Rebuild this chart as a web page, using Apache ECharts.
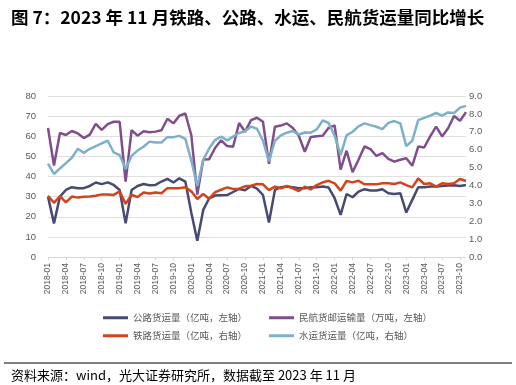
<!DOCTYPE html>
<html>
<head>
<meta charset="utf-8">
<script src="https://cdn.jsdelivr.net/npm/echarts@6/dist/echarts.min.js"></script>
<style>
html,body{margin:0;padding:0;background:#fff;}
#c{width:516px;height:385px;}
</style>
</head>
<body>
<div id="c"></div>
<script>
// Categories: 2018-01 .. 2023-11
var categories = [];
for (var y = 2018; y <= 2023; y++) {
  for (var m = 1; m <= 12; m++) {
    if (y === 2023 && m > 11) break;
    categories.push(y + '-' + (m < 10 ? '0' + m : '' + m));
  }
}

// 公路货运量（亿吨，左轴）
var roadFreight = [30.0, 16.7, 30, 33.3, 34.7, 34.2, 34.2, 35.3, 37, 36.2, 37.1, 35.8,
  33.3, 16.7, 33.3, 35.3, 36.3, 35.7, 35.8, 37.5, 38.8, 37, 39.1, 37.5,
  22, 8.1, 23.4, 29.2, 30.5, 30.7, 30.8, 32.3, 33.8, 33.2, 35.3, 34,
  30.8, 17.1, 33.3, 34.7, 35, 34.7, 34.2, 34.2, 34.7, 34.7, 35, 34.5,
  29.2, 20.9, 31.3, 29.7, 32.5, 33.7, 33, 33, 33.7, 31.7, 31.3, 31.7,
  22.1, 28.4, 34.7, 34.7, 35, 35, 35.3, 35.5, 35.7, 35.3, 35.8];

// 民航货邮运输量（万吨，左轴）
var airFreight = [64.1, 45.5, 61.6, 60.6, 62.6, 61.4, 59.1, 60.8, 66.2, 63.2, 66, 67.2,
  67.2, 37.5, 63, 60.3, 62.5, 62, 62.3, 63, 68.7, 66.4, 70.2, 71.3,
  60.5, 31, 48.4, 48.6, 54.3, 58, 55.1, 54.8, 66.6, 62.2, 68, 69.2,
  67.2, 46.3, 64.7, 65.3, 66.4, 64.1, 60.2, 52.3, 59.6, 60, 60.3, 64.2,
  65.4, 43.4, 52.8, 42.1, 48.3, 54.9, 53.6, 50.2, 51.6, 48.8, 47.4, 48.3,
  49.1, 45.3, 54.9, 54.4, 59.9, 64.8, 59.9, 64, 70.1, 67.7, 72];

// 铁路货运量（亿吨，右轴）
var railFreight = [3.42, 3.03, 3.4, 3.05, 3.38, 3.32, 3.37, 3.38, 3.42, 3.5, 3.5, 3.47,
  3.67, 2.97, 3.48, 3.35, 3.6, 3.55, 3.61, 3.56, 3.85, 3.85, 3.85, 3.9,
  3.67, 3.24, 3.52, 3.26, 3.63, 3.76, 3.89, 3.8, 3.82, 3.95, 3.98, 4.08,
  4.06, 3.74, 3.93, 3.84, 3.97, 3.84, 3.69, 3.93, 3.78, 4.02, 4.17, 4.26,
  4.12, 3.71, 4.25, 4.17, 4.26, 4.06, 4.06, 4.06, 4.12, 4.12, 4.08, 4.17,
  4.02, 3.89, 4.39, 4.08, 4.12, 3.93, 4.12, 4.08, 4.12, 4.36, 4.25];

// 水运货运量（亿吨，右轴）
var waterFreight = [5.22, 4.64, 4.95, 5.25, 5.55, 6.05, 5.82, 6.05, 6.2, 6.35, 6.5, 5.85,
  5.7, 4.92, 5.65, 5.95, 6.16, 6.45, 6.4, 6.4, 6.7, 6.7, 6.77, 6.6,
  5.4, 3.95, 5.43, 6.08, 6.55, 6.73, 6.52, 6.73, 6.93, 7.03, 7.29, 7.17,
  6.5, 5.35, 6.5, 6.8, 6.95, 7.04, 6.85, 6.96, 6.95, 7.13, 7.64, 7.49,
  6.78, 5.7, 6.8, 7.0, 7.3, 7.47, 7.37, 7.28, 7.15, 7.5, 7.6, 7.47,
  6.2, 6.5, 7.65, 7.78, 7.9, 8.05, 7.9, 8.08, 8.05, 8.35, 8.45];

var leftTicks = {min: 0, max: 80, interval: 10};
var rightTicks = {min: 0, max: 9, interval: 1};

var names = ['公路货运量（亿吨，左轴）', '民航货邮运输量（万吨，左轴）', '铁路货运量（亿吨，右轴）', '水运货运量（亿吨，右轴）'];
var colors = ['#474a73', '#7f4e8b', '#d2441c', '#7eb0c9'];

var cjk = '"Noto Sans CJK SC", "Noto Sans", sans-serif';
var latin = '"Liberation Sans", Arial, sans-serif';

var chart = echarts.init(document.getElementById('c'), null, {renderer: 'canvas'});
var legendText = {fontSize: 9.5, color: '#595959', fontFamily: cjk};
chart.setOption({
  animation: false,
  backgroundColor: '#fff',
  color: colors,
  title: [
    {text: '图 7：2023 年 11 月铁路、公路、水运、民航货运量同比增长', left: 6, top: 4,
     textStyle: {fontSize: 17.5, fontWeight: 'bold', color: '#000', fontFamily: cjk}},
    {text: '资料来源：wind，光大证券研究所，数据截至 2023 年 11 月', left: 6, top: 364,
     textStyle: {fontSize: 13, fontWeight: 'normal', color: '#000', fontFamily: cjk}}
  ],
  graphic: [
    {type: 'rect', shape: {x: 4, y: 362, width: 508, height: 2}, style: {fill: '#7f7f7f'}, silent: true}
  ],
  legend: [
    {data: [names[0], names[1]], left: 98, top: 308, itemWidth: 25, itemHeight: 3, itemGap: 22,
     icon: 'rect', textStyle: legendText},
    {data: [names[2], names[3]], left: 98, top: 326, itemWidth: 25, itemHeight: 3, itemGap: 22,
     icon: 'rect', textStyle: legendText}
  ],
  grid: {left: 48, right: 50, top: 96, bottom: 128, containLabel: false},
  xAxis: {
    type: 'category',
    data: categories,
    boundaryGap: false,
    axisLine: {lineStyle: {color: '#d9d9d9', width: 1}},
    axisTick: {show: true, interval: 2, length: 3, lineStyle: {color: '#d9d9d9'}},
    axisLabel: {interval: 2, rotate: 90, fontSize: 8.5, color: '#595959', fontFamily: latin, margin: 6},
    splitLine: {show: false}
  },
  yAxis: [
    {type: 'value', min: leftTicks.min, max: leftTicks.max, interval: leftTicks.interval,
     axisLine: {show: false}, axisTick: {show: false},
     axisLabel: {fontSize: 9.5, color: '#595959', fontFamily: latin, margin: 12},
     splitLine: {lineStyle: {color: '#e0e0e0', width: 1}}},
    {type: 'value', min: rightTicks.min, max: rightTicks.max, interval: rightTicks.interval,
     axisLine: {show: false}, axisTick: {show: false},
     axisLabel: {fontSize: 9.5, color: '#595959', fontFamily: latin, margin: 3,
       formatter: function (v) { return v.toFixed(1); }},
     splitLine: {show: false}}
  ],
  series: [
    {name: names[0], type: 'line', yAxisIndex: 0, data: roadFreight, symbol: 'none', lineStyle: {width: 2.5, color: colors[0]}},
    {name: names[1], type: 'line', yAxisIndex: 0, data: airFreight, symbol: 'none', lineStyle: {width: 2.5, color: colors[1]}},
    {name: names[2], type: 'line', yAxisIndex: 1, data: railFreight, symbol: 'none', lineStyle: {width: 2.5, color: colors[2]}},
    {name: names[3], type: 'line', yAxisIndex: 1, data: waterFreight, symbol: 'none', lineStyle: {width: 2.5, color: colors[3]}}
  ]
});
</script>
</body>
</html>
